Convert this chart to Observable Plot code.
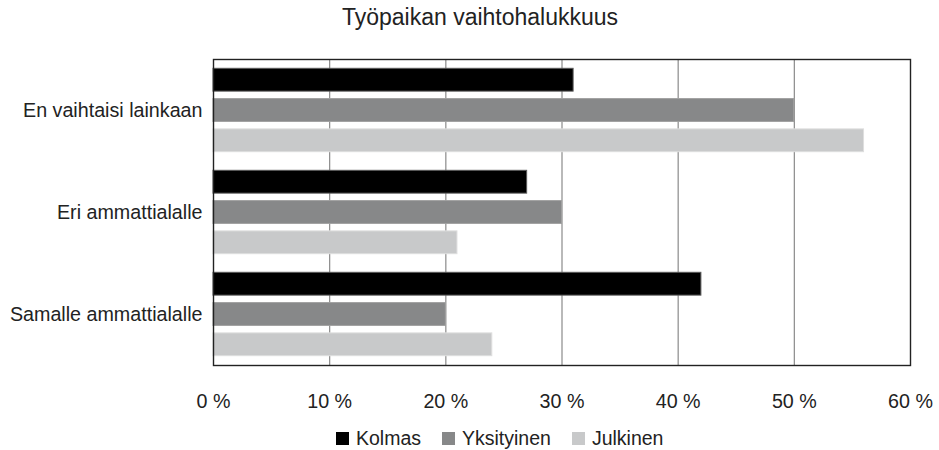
<!DOCTYPE html>
<html>
<head>
<meta charset="utf-8">
<script src="https://cdn.jsdelivr.net/npm/d3@7"></script>
<script src="https://cdn.jsdelivr.net/npm/@observablehq/plot@0.6"></script>
<style>
  html, body { margin: 0; padding: 0; background: #fff; }
  #wrap { position: relative; width: 939px; height: 450px; font-family: "Liberation Sans", Arial, sans-serif; color: #222; }
  #title { position: absolute; top: 4px; left: 0; width: 960px; text-align: center; font-size: 23px; }
  #legend { position: absolute; top: 427px; left: 336px; display: flex; align-items: center; font-size: 19.5px; white-space: nowrap; }
  .item { display: flex; align-items: center; margin-right: 21px; }
  .sw { width: 13px; height: 13px; margin-right: 7px; display: inline-block; }
  #chart { position: absolute; top: 0; left: 0; }
</style>
</head>
<body>
<div id="wrap">
  <div id="chart"></div>
  <div id="title"></div>
  <div id="legend"></div>
</div>
<script>
const titleText = "Työpaikan vaihtohalukkuus";
const categories = ["En vaihtaisi lainkaan", "Eri ammattialalle", "Samalle ammattialalle"];
const seriesNames = ["Kolmas", "Yksityinen", "Julkinen"];
const kolmas = [31, 27, 42];
const yksityinen = [50, 30, 20];
const julkinen = [56, 21, 24];
const xTicks = [0, 10, 20, 30, 40, 50, 60];
const xTickLabels = ["0 %", "10 %", "20 %", "30 %", "40 %", "50 %", "60 %"];
const fills = ["#000000", "#878889", "#c8c9ca"];
const strokes = ["#5a5a5a", "#a0a0a0", "#dedede"];

const valuesBySeries = [kolmas, yksityinen, julkinen];
const data = [];
categories.forEach((c, i) => seriesNames.forEach((s, j) => data.push({category: c, series: s, value: valuesBySeries[j][i]})));

document.getElementById("title").textContent = titleText;
const legend = document.getElementById("legend");
seriesNames.forEach((s, j) => {
  const it = document.createElement("span");
  it.className = "item";
  const sw = document.createElement("span");
  sw.className = "sw";
  sw.style.background = fills[j];
  it.appendChild(sw);
  it.appendChild(document.createTextNode(s));
  legend.appendChild(it);
});

const strokeOf = (s) => strokes[seriesNames.indexOf(s)];

const svg = Plot.plot({
  width: 939,
  height: 450,
  marginLeft: 213,
  marginRight: 29,
  marginTop: 58,
  marginBottom: 84,
  style: {fontFamily: "Liberation Sans, Arial, sans-serif", fontSize: "19.7px", color: "#222", background: "transparent"},
  facet: {data, y: "category"},
  fy: {domain: categories, padding: 0, axis: "left", label: null, tickSize: 0, tickPadding: 11},
  y: {domain: seriesNames, paddingInner: 0.246, paddingOuter: 0.307, axis: null, round: false},
  x: {domain: [0, 60], ticks: xTicks, tickFormat: (d) => xTickLabels[xTicks.indexOf(d)], tickSize: 0, tickPadding: 28, label: null, line: false},
  color: {domain: seriesNames, range: fills},
  marks: [
    Plot.ruleX(xTicks.slice(1, -1), {stroke: "#8a8a8a", strokeWidth: 1.2}),
    Plot.barX(data, {x: "value", y: "series", fy: "category", fill: "series", stroke: (d) => strokeOf(d.series), strokeWidth: 1}),
    Plot.frame({facet: "super", stroke: "#222", strokeWidth: 1.4})
  ]
});
document.getElementById("chart").appendChild(svg);
</script>
</body>
</html>
